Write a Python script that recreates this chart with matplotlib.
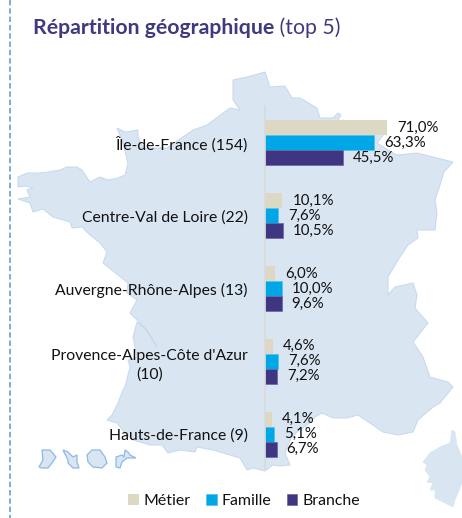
import matplotlib
matplotlib.use('Agg')
import matplotlib.pyplot as plt
from matplotlib.patches import Polygon

plt.rcParams['font.family'] = ['Lato', 'DejaVu Sans']

# Chart values
regions = ["Île-de-France (154)", "Centre-Val de Loire (22)", "Auvergne-Rhône-Alpes (13)",
           "Provence-Alpes-Côte d'Azur\n(10)", "Hauts-de-France (9)"]
metier = [71.0, 10.1, 6.0, 4.6, 4.1]
famille = [63.3, 7.6, 10.0, 7.6, 5.1]
branche = [45.5, 10.5, 9.6, 7.2, 6.7]

# Background map outlines, traced in image pixels
france = [(233, 80), (247, 77), (265, 72), (270, 87), (285, 86), (292, 98), (300, 98), (317, 108),
          (320, 118), (333, 118), (338, 113), (341, 115), (337, 122), (343, 120), (383, 135), (377, 143),
          (393, 153), (397, 155), (417, 153), (437, 158), (453, 162), (444, 172), (441, 182), (435, 200),
          (437, 213), (435, 230), (417, 230), (418, 238), (408, 245), (398, 260), (388, 277), (388, 295),
          (395, 287), (413, 283), (417, 295), (415, 308), (428, 323), (413, 342), (423, 357), (430, 377),
          (448, 382), (453, 387), (440, 403), (433, 407), (418, 420), (413, 432), (398, 435), (383, 432),
          (370, 423), (358, 415), (347, 418), (333, 418), (322, 413), (315, 417), (307, 425), (297, 432),
          (290, 440), (285, 453), (290, 465), (280, 466), (273, 465), (265, 471), (253, 468), (247, 470),
          (240, 458), (230, 455), (213, 450), (197, 447), (195, 452), (180, 450), (168, 453), (162, 445),
          (150, 445), (133, 440), (125, 433), (117, 423), (107, 420), (112, 415), (118, 403), (123, 390),
          (125, 387), (130, 367), (128, 360), (137, 357), (133, 337), (137, 322), (147, 330), (157, 347),
          (145, 328), (137, 320), (130, 313), (137, 300), (127, 293), (128, 283), (103, 263), (107, 252),
          (100, 243), (90, 235), (82, 227), (72, 228), (70, 222), (53, 217), (43, 209), (33, 212),
          (30, 203), (18, 199), (30, 197), (27, 190), (33, 188), (25, 186), (18, 187), (18, 177),
          (27, 173), (40, 173), (48, 172), (60, 170), (67, 167), (77, 167), (82, 170), (90, 182),
          (100, 177), (108, 180), (118, 178), (125, 175), (128, 163), (123, 143), (117, 128), (125, 132),
          (138, 130), (138, 137), (143, 148), (167, 148), (193, 130), (207, 125), (230, 108), (240, 110),
          (233, 100)]
corsica = [(452, 430), (455, 432), (457, 445), (462, 457), (462, 483), (455, 500), (453, 507), (443, 502),
           (435, 498), (435, 490), (430, 490), (433, 483), (427, 482), (430, 477), (425, 470), (427, 465),
           (423, 462), (430, 453), (440, 447), (450, 443)]
islands = [
    [(42, 450), (50, 450), (56, 457), (52, 463), (48, 468), (42, 468), (39, 467), (43, 460)],
    [(63, 450), (68, 452), (73, 457), (77, 455), (77, 462), (79, 468), (73, 468), (68, 463), (68, 460)],
    [(87, 455), (92, 450), (100, 450), (105, 457), (107, 463), (102, 468), (93, 467), (88, 462)],
    [(116, 457), (122, 455), (124, 457), (125, 450), (128, 452), (130, 455), (136, 458), (127, 458),
     (122, 462), (120, 468), (116, 467)],
]

fig = plt.figure(figsize=(4.62, 5.18), dpi=100)

# Map layer uses pixel coordinates
bg = fig.add_axes([0, 0, 1, 1])
bg.set_xlim(0, 462)
bg.set_ylim(518, 0)
bg.axis('off')
bg.add_patch(Polygon(france, closed=True, fc='#DAE5F2', ec='#C5D8EE', lw=0.7))
bg.add_patch(Polygon(corsica, closed=True, fc='#DAE5F2', ec='#DAE5F2', lw=0.5))
for isl in islands:
    bg.add_patch(Polygon(isl, closed=True, fc='#DAE5F2', ec='#8DB9E8', lw=0.9))
bg.plot([10, 10], [0, 518], color='#6FA8DC', lw=1.3, ls=(0, (3, 1.6)))

# Title in two weights
t = bg.text(33, 34, "Répartition géographique", fontsize=15.3, fontweight='bold', color='#3F3A80', va='baseline')
bg.annotate(" (top 5)", xy=(1, 0), xycoords=t, va='bottom', fontsize=15.3, color='#3F3A80')

# Bars
ax = fig.add_axes([265 / 462, (518 - 470.5) / 518, 175 / 462, 364 / 518])
ax.patch.set_alpha(0)
y = list(range(len(regions)))
h = 0.206
s1 = ax.barh([i - h for i in y], metier, h, color='#DDD8C4', label='Métier')
s2 = ax.barh(y, famille, h, color='#00A7E6', edgecolor='#4FC3F0', lw=0.5, label='Famille')
s3 = ax.barh([i + h for i in y], branche, h, color='#3F3682', edgecolor='#6A64A8', lw=0.5, label='Branche')
for bars, vals in zip((s1, s2, s3), (metier, famille, branche)):
    for b, v in zip(bars, vals):
        ax.annotate(f"{v:.1f}%".replace('.', ','), (v, b.get_y() + b.get_height() / 2),
                    xytext=(7.2, 0), textcoords='offset points', va='center', fontsize=10.8, color='#111111')

ax.set_xlim(0, 175 / 1.72)
ax.set_ylim(4.5, -0.5)
ax.set_yticks(y)
ax.set_yticklabels(regions, fontsize=11.3, color='#111111', multialignment='center', linespacing=1.45)
ax.tick_params(axis='y', length=0, pad=12.5)
ax.set_xticks([])
for side in ['top', 'right', 'bottom']:
    ax.spines[side].set_visible(False)
ax.spines['left'].set_color('#D9D9D9')
ax.spines['left'].set_linewidth(1.2)

fig.legend(handles=[s1, s2, s3], loc='center', bbox_to_anchor=(244 / 462, (518 - 501) / 518), ncol=3,
           frameon=False, fontsize=11.4, handlelength=0.65, handleheight=0.65, handletextpad=0.3,
           columnspacing=1.0, labelcolor='#111111')

fig.savefig('out.png', dpi=100)
